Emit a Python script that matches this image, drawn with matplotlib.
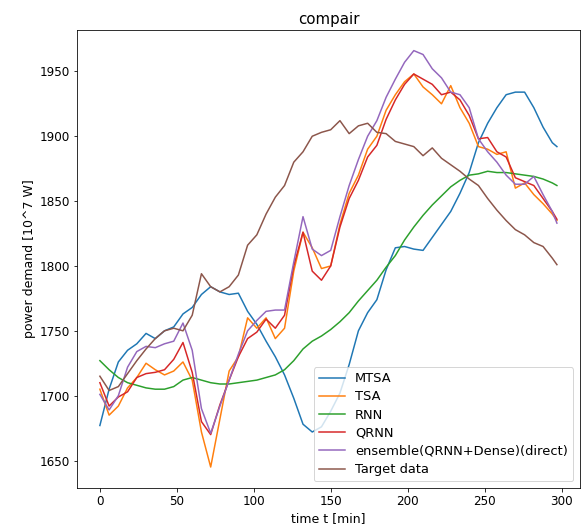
import numpy as np
import matplotlib
matplotlib.use("Agg")
import matplotlib.pyplot as plt

# time axis [min]
t = list(range(0, 295, 6)) + [297]

mtsa = [1677, 1705, 1726, 1735, 1740, 1748, 1744, 1750, 1753, 1763, 1768, 1778, 1784, 1780, 1778, 1779,
        1765, 1755, 1742, 1730, 1716, 1698, 1678, 1672, 1676, 1688, 1702, 1724, 1750, 1764, 1774, 1797,
        1814, 1815, 1813, 1812, 1822, 1832, 1842, 1856, 1872, 1895, 1910, 1922, 1932, 1934, 1934, 1922,
        1907, 1895, 1892]

tsa = [1705, 1685, 1692, 1706, 1714, 1725, 1720, 1716, 1719, 1726, 1712, 1672, 1645, 1682, 1719, 1730,
       1760, 1752, 1760, 1744, 1752, 1796, 1826, 1814, 1798, 1800, 1832, 1856, 1870, 1890, 1900, 1920,
       1932, 1942, 1948, 1938, 1932, 1925, 1939, 1922, 1910, 1892, 1890, 1886, 1888, 1860, 1864, 1855,
       1848, 1840, 1835]

rnn = [1727, 1720, 1714, 1710, 1708, 1706, 1705, 1705, 1707, 1712, 1714, 1712, 1710, 1709, 1709, 1710,
       1711, 1712, 1714, 1716, 1720, 1727, 1736, 1742, 1746, 1751, 1757, 1764, 1773, 1781, 1789, 1799,
       1808, 1820, 1830, 1839, 1847, 1854, 1861, 1866, 1870, 1871, 1873, 1872, 1872, 1871, 1870, 1869,
       1867, 1864, 1862]

qrnn = [1710, 1692, 1699, 1703, 1714, 1717, 1718, 1720, 1728, 1741, 1718, 1680, 1670, 1693, 1712, 1730,
        1744, 1749, 1759, 1752, 1762, 1800, 1826, 1796, 1789, 1800, 1830, 1852, 1866, 1884, 1893, 1913,
        1928, 1940, 1948, 1944, 1940, 1932, 1934, 1928, 1916, 1898, 1899, 1888, 1884, 1868, 1865, 1862,
        1852, 1842, 1836]

ensemble = [1701, 1689, 1700, 1722, 1734, 1738, 1737, 1740, 1742, 1756, 1735, 1690, 1671, 1692, 1712, 1732,
            1750, 1758, 1765, 1766, 1766, 1803, 1838, 1813, 1808, 1812, 1838, 1862, 1882, 1900, 1912, 1930,
            1944, 1957, 1966, 1963, 1952, 1945, 1934, 1932, 1922, 1898, 1888, 1880, 1870, 1863, 1863, 1869,
            1855, 1842, 1833]

target = [1715, 1704, 1707, 1717, 1727, 1736, 1744, 1750, 1752, 1750, 1762, 1794, 1784, 1780, 1784, 1793,
          1816, 1824, 1840, 1853, 1862, 1880, 1888, 1900, 1903, 1905, 1912, 1902, 1908, 1910, 1903, 1902,
          1896, 1894, 1892, 1885, 1891, 1883, 1878, 1873, 1867, 1862, 1852, 1843, 1835, 1828, 1824, 1818,
          1815, 1806, 1801]

series = [("MTSA", mtsa), ("TSA", tsa), ("RNN", rnn), ("QRNN", qrnn),
          ("ensemble(QRNN+Dense)(direct)", ensemble), ("Target data", target)]

fig = plt.figure(figsize=(588 / 72, 532 / 72), dpi=72)
ax = fig.add_axes([0.131, 0.083, 0.855, 0.861])
for name, vals in series:
    ax.plot(t, vals, label=name)

ax.set_title("compair", fontsize=15)
ax.set_xlabel("time t [min]", fontsize=12.5)
ax.set_ylabel("power demand [10^7 W]", fontsize=12.5)
ax.set_xticks([0, 50, 100, 150, 200, 250, 300])
ax.tick_params(labelsize=12)
ax.legend(loc="lower right", fontsize=13, labelspacing=0.4, handlelength=2.0)

fig.savefig("out.png", dpi=72)
